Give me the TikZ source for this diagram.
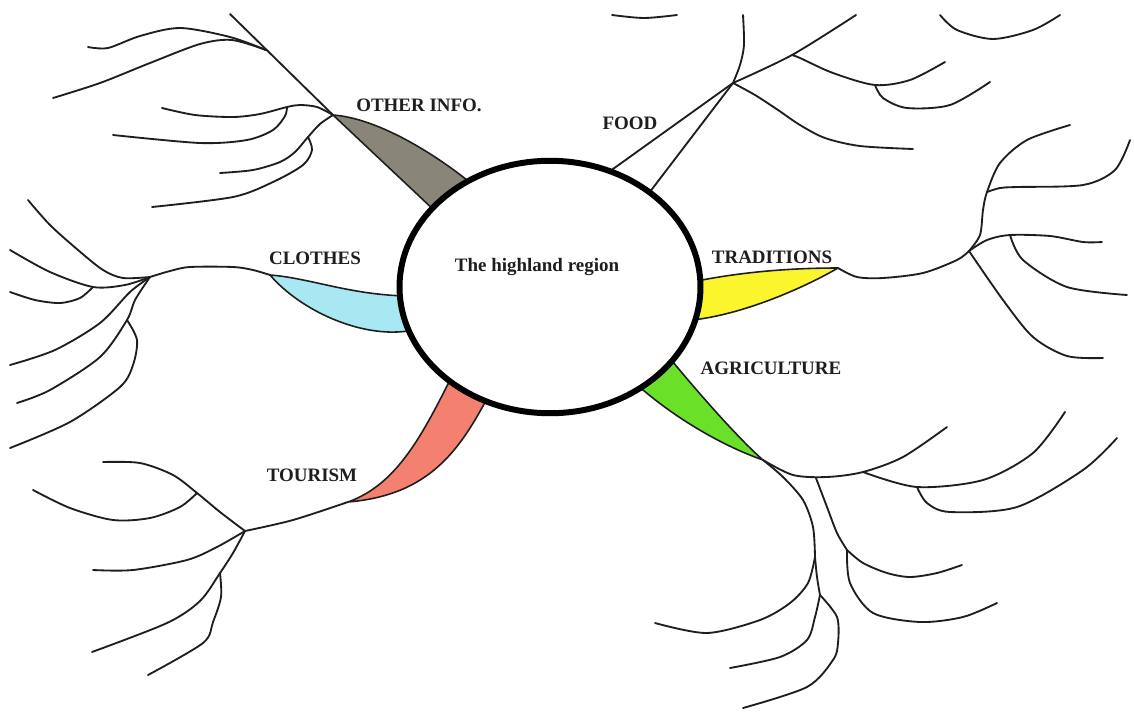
\documentclass[tikz,border=0pt]{standalone}
\usepackage{fontspec}
\setmainfont{Liberation Serif}
\usetikzlibrary{shapes.geometric}
\definecolor{petalgray}{HTML}{8A8579}
\definecolor{petalblue}{HTML}{A8E8F2}
\definecolor{petalyellow}{HTML}{FAF52C}
\definecolor{petalgreen}{HTML}{6BE029}
\definecolor{petalsalmon}{HTML}{F48070}
\definecolor{ink}{HTML}{1E1E1E}
\begin{document}
\begin{tikzpicture}[x=0.02cm,y=-0.02cm,
  br/.style={line width=1.05pt, line cap=round, line join=round, draw=ink},
  petal/.style={draw=ink, line width=0.9pt, line join=round},
  lbl/.style={font=\fontsize{10.8}{12}\selectfont\bfseries, text=ink, inner sep=0pt, anchor=base},
  hub/.style={draw=black, line width=3.4pt, fill=white, ellipse, minimum width=6.02cm, minimum height=5.05cm, inner sep=0pt}]
\useasboundingbox (0,0) rectangle (1134,711);
\fill[white] (0,0) rectangle (1134,711);

% ---------- key coordinates ----------
\coordinate (oiT) at (333,115);
\coordinate (oiJ1) at (266,50);
\coordinate (oiJA) at (287,107);
\coordinate (oiJB) at (308,137);
\coordinate (clT) at (270,275);
\coordinate (clJ) at (150,277);
\coordinate (clJ2) at (93,287);
\coordinate (clJ3) at (127,320);
\coordinate (toT) at (348,502);
\coordinate (toJ) at (245,531);
\coordinate (toJ1) at (197,493);
\coordinate (toJ2) at (220,573);
\coordinate (trT) at (838,268);
\coordinate (trJ) at (969,251);
\coordinate (trJ1) at (987,192);
\coordinate (trJ2) at (1010,235);
\coordinate (agT) at (763,460);
\coordinate (agJ1) at (863,472);
\coordinate (agJ2) at (917,487);
\coordinate (agJ3) at (816,478);
\coordinate (agJ4) at (847,550);
\coordinate (agJ5) at (815,557);
\coordinate (agJ6) at (820,595);
\coordinate (fdA) at (606,174);
\coordinate (fdB) at (646,197);
\coordinate (fdJ) at (733,83);
\coordinate (fdJ1) at (792,55);
\coordinate (fdJ2) at (875,85);

% ---------- petals ----------
\filldraw[petal, fill=petalgray] (oiT) .. controls (375,118) and (430,150) .. (472,184) -- (436,212) -- cycle;
\filldraw[petal, fill=petalblue] (clT) .. controls (310,278) and (350,295) .. (408,296) -- (408,331) .. controls (360,338) and (300,310) .. (clT) -- cycle;
\filldraw[petal, fill=petalsalmon] (toT) .. controls (395,485) and (420,440) .. (451,378) -- (490,393) .. controls (460,450) and (430,495) .. (toT) -- cycle;
\filldraw[petal, fill=petalyellow] (trT) .. controls (790,268) and (740,272) .. (692,282) -- (692,320) .. controls (740,315) and (800,290) .. (trT) -- cycle;
\filldraw[petal, fill=petalgreen] (668,356) .. controls (700,395) and (740,440) .. (agT) .. controls (720,445) and (670,415) .. (634,382) -- cycle;

% ---------- OTHER INFO. branches ----------
\draw[br] (oiT) -- (230,14);
\draw[br] plot[smooth] coordinates {(oiJ1) (230,37) (180,28) (140,36) (108,48) (88,47)};
\draw[br] plot[smooth] coordinates {(oiJ1) (232,40) (200,44) (150,63) (100,83) (53,98)};
\draw[br] plot[smooth] coordinates {(oiT) (317,107) (300,105) (oiJA) (260,114) (233,117) (195,115) (162,108)};
\draw[br] plot[smooth] coordinates {(oiJA) (285,116) (273,130) (247,140) (200,143) (113,135)};
\draw[br] plot[smooth] coordinates {(oiT) (320,124) (oiJB) (295,152) (280,162) (253,170) (220,173)};
\draw[br] plot[smooth] coordinates {(oiJB) (312,150) (303,165) (273,182) (233,197) (152,207)};

% ---------- CLOTHES branches ----------
\draw[br] plot[smooth] coordinates {(clT) (253,270) (233,267) (190,267) (170,271) (clJ)};
\draw[br] plot[smooth] coordinates {(clJ) (123,278) (103,270) (78,250) (50,225) (28,200)};
\draw[br] plot[smooth] coordinates {(clJ) (125,285) (clJ2) (50,272) (10,250)};
\draw[br] plot[smooth] coordinates {(clJ2) (80,298) (60,303) (35,300) (10,292)};
\draw[br] plot[smooth] coordinates {(clJ) (130,292) (100,323) (55,350) (10,365)};
\draw[br] plot[smooth] coordinates {(clJ) (135,300) (clJ3) (100,357) (50,390) (17,403)};
\draw[br] plot[smooth] coordinates {(clJ3) (137,340) (133,365) (120,387) (70,422) (10,448)};

% ---------- TOURISM branches ----------
\draw[br] plot[smooth] coordinates {(toT) (293,520) (toJ)};
\draw[br] plot[smooth] coordinates {(toJ) (220,512) (toJ1) (173,475) (140,463) (103,462)};
\draw[br] plot[smooth] coordinates {(toJ1) (180,507) (150,518) (113,520) (70,508) (33,490)};
\draw[br] plot[smooth] coordinates {(toJ) (217,547) (187,560) (133,570) (93,570)};
\draw[br] plot[smooth] coordinates {(toJ) (233,553) (toJ2) (200,601) (167,623) (92,652)};
\draw[br] plot[smooth] coordinates {(toJ2) (221,597) (213,622) (203,643) (148,675)};

% ---------- TRADITIONS branches ----------
\draw[br] plot[smooth] coordinates {(trT) (857,277) (883,278) (923,273) (957,260) (trJ)};
\draw[br] plot[smooth] coordinates {(trJ) (980,235) (983,210) (trJ1) (1000,163) (1027,140) (1070,125)};
\draw[br] plot[smooth] coordinates {(trJ1) (1000,188) (1017,187) (1083,185) (1115,170) (1130,140)};
\draw[br] plot[smooth] coordinates {(trJ) (987,240) (trJ2) (1050,236) (1083,242) (1102,242)};
\draw[br] plot[smooth] coordinates {(trJ2) (1023,260) (1067,287) (1127,295)};
\draw[br] plot[smooth] coordinates {(trJ) (1003,300) (1033,337) (1067,356) (1103,358)};

% ---------- AGRICULTURE branches ----------
\draw[br] plot[smooth] coordinates {(agT) (793,475) (827,477) (agJ1) (903,457) (947,427)};
\draw[br] plot[smooth] coordinates {(agJ1) (agJ2) (983,480) (1033,453) (1065,412)};
\draw[br] plot[smooth] coordinates {(agJ2) (927,503) (950,512) (1017,507) (1083,470) (1117,438)};
\draw[br] plot[smooth] coordinates {(agT) (783,477) (803,500) (813,527) (agJ5)};
\draw[br] plot[smooth] coordinates {(agJ5) (808,583) (790,603) (760,620) (707,633) (655,623)};
\draw[br] plot[smooth] coordinates {(agJ5) (817,577) (agJ6)};
\draw[br] plot[smooth] coordinates {(agJ6) (815,617) (807,640) (780,657) (730,668)};
\draw[br] plot[smooth] coordinates {(agJ6) (837,617) (838,643) (833,660) (807,687) (743,708)};
\draw[br] plot[smooth] coordinates {(agJ3) (827,507) (837,533) (agJ4)};
\draw[br] plot[smooth] coordinates {(agJ4) (863,563) (887,573) (910,577) (937,573) (962,565)};
\draw[br] plot[smooth] coordinates {(agJ4) (850,583) (873,613) (920,622) (963,617) (997,603)};

% ---------- FOOD branches ----------
\draw[br] (fdA) -- (fdJ);
\draw[br] (fdB) -- (fdJ);
\draw[br] plot[smooth] coordinates {(fdJ) (740,65) (744,45) (743,15)};
\draw[br] plot[smooth] coordinates {(fdJ) (fdJ1) (856,15)};
\draw[br] plot[smooth] coordinates {(fdJ1) (800,58) (833,73) (fdJ2) (910,80) (945,62)};
\draw[br] plot[smooth] coordinates {(fdJ2) (883,98) (907,108) (950,105) (990,82)};
\draw[br] plot[smooth] coordinates {(fdJ) (755,95) (778,110) (800,125) (825,138) (860,146) (913,149)};
\draw[br] plot[smooth] coordinates {(612,15) (644,18) (677,15)};
\draw[br] plot[smooth] coordinates {(940,15) (957,30) (993,39) (1033,30) (1060,15)};

% ---------- hub ----------
\node[hub] (hub) at (550,287) {};
\node[lbl] (hubtext) at (537,271) {The highland region};

% ---------- labels ----------
\node[lbl] (lOther) at (419,111) {OTHER INFO.};
\node[lbl] (lFood) at (630,129) {FOOD};
\node[lbl] (lTrad) at (772,263) {TRADITIONS};
\node[lbl] (lAgri) at (771,374) {AGRICULTURE};
\node[lbl] (lCloth) at (315,264) {CLOTHES};
\node[lbl] (lTour) at (312,481) {TOURISM};
\end{tikzpicture}
\end{document}
